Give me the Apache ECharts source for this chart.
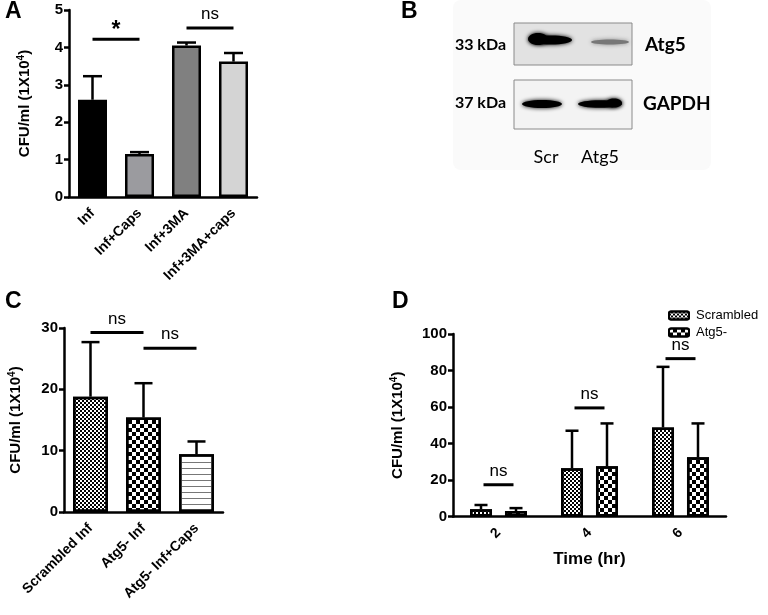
<!DOCTYPE html>
<html>
<head>
<meta charset="utf-8">
<script src="https://cdn.jsdelivr.net/npm/echarts@6/dist/echarts.min.js"></script>
<style>
  html, body { margin: 0; padding: 0; background: #fff; }
  #main { width: 768px; height: 615px; }
</style>
</head>
<body>
<div id="main"></div>
<script>
// ---- panel A data
var aCats = ['Inf', 'Inf+Caps', 'Inf+3MA', 'Inf+3MA+caps'];
var aMeans = [2.6, 1.15, 4.05, 3.62];
var aErrTop = [3.23, 1.2, 4.13, 3.85];
var aColors = ['#000000', '#9b9b9f', '#808080', '#d4d4d4'];
var aSig = [[0, 1, 4.22, '*'], [2, 3, 4.52, 'ns']];

// ---- panel C data
var cCats = ['Scrambled Inf', 'Atg5- Inf', 'Atg5- Inf+Caps'];
var cMeans = [18.8, 15.4, 9.4];
var cErrTop = [27.7, 21.0, 11.5];
var cSig = [[0, 1, 29.25, 'ns'], [1, 2, 26.7, 'ns']];

// ---- panel D data
var dCats = ['2', '4', '6'];
var dScr = [4, 26.5, 48.8];
var dScrErrTop = [6.3, 47, 82];
var dAtg = [3, 27.5, 32.4];
var dAtgErrTop = [4.6, 51, 51];
var dSig = [[0, 17.4, 'ns'], [1, 59.5, 'ns'], [2, 86.5, 'ns']];

var FONT = '"Liberation Sans", Arial, sans-serif';
var BLOT_FONT = 'Lato, "Open Sans", sans-serif';

// patterns
var fineChecker = { symbol: 'rect', symbolSize: 1, color: '#000', dashArrayX: [[2, 2], [0, 2, 2, 0]], dashArrayY: [2, 0] };
var bigChecker = { symbol: 'rect', symbolSize: 1, color: '#000', dashArrayX: [[4, 4], [0, 4, 4, 0]], dashArrayY: [4, 0] };
var stripes = { symbol: 'rect', symbolSize: 1, color: '#777', dashArrayX: [1, 0], dashArrayY: [1, 4.7] };

var chart = echarts.init(document.getElementById('main'));

function errorBar(offset, cap) {
  return function (params, api) {
    var i = api.value(0);
    var lo = api.coord([i, api.value(1)]);
    var hi = api.coord([i, api.value(2)]);
    var x = lo[0] + offset;
    var st = { stroke: '#000', lineWidth: 2.5 };
    return {
      type: 'group',
      children: [
        { type: 'line', shape: { x1: x, y1: lo[1], x2: x, y2: hi[1] }, style: st },
        { type: 'line', shape: { x1: x - cap / 2, y1: hi[1], x2: x + cap / 2, y2: hi[1] }, style: st }
      ]
    };
  };
}

function sigPair(list) {
  return function (params, api) {
    var y = api.value(2);
    var p0 = api.coord([api.value(0), y]);
    var p1 = api.coord([api.value(1), y]);
    var t = list[params.dataIndex][3];
    var star = t === '*';
    return {
      type: 'group',
      children: [
        { type: 'line', shape: { x1: p0[0], y1: p0[1], x2: p1[0], y2: p1[1] }, style: { stroke: '#000', lineWidth: 3 } },
        { type: 'text', style: { text: t, x: (p0[0] + p1[0]) / 2, y: p0[1] - (star ? -3 : 5), align: 'center', verticalAlign: 'bottom',
          font: (star ? 'bold 23px ' : '17px ') + FONT, fill: '#000' } }
      ]
    };
  };
}

function sigSingle(list, half) {
  return function (params, api) {
    var p = api.coord([api.value(0), api.value(1)]);
    return {
      type: 'group',
      children: [
        { type: 'line', shape: { x1: p[0] - half, y1: p[1], x2: p[0] + half, y2: p[1] }, style: { stroke: '#000', lineWidth: 3 } },
        { type: 'text', style: { text: list[params.dataIndex][2], x: p[0], y: p[1] - 5, align: 'center', verticalAlign: 'bottom',
          font: '17px ' + FONT, fill: '#000' } }
      ]
    };
  };
}

function xAx(idx, cats, rotate) {
  return {
    type: 'category', gridIndex: idx, data: cats,
    axisLine: { lineStyle: { color: '#000', width: 2.5 } },
    axisTick: { alignWithLabel: true, length: 7, lineStyle: { color: '#000', width: 2.5 } },
    axisLabel: { rotate: rotate, margin: 14, color: '#000', fontWeight: 'bold', fontSize: 14, fontFamily: FONT, interval: 0 }
  };
}

function yAx(idx, max, interval, gap) {
  return {
    type: 'value', gridIndex: idx, min: 0, max: max, interval: interval,
    name: 'CFU/ml (1X10{sup|4})', nameLocation: 'middle', nameGap: gap, nameRotate: 90,
    nameTextStyle: { color: '#000', fontWeight: 'bold', fontSize: 15, fontFamily: FONT,
      rich: { sup: { fontSize: 10, fontWeight: 'bold', fontFamily: FONT, padding: [0, 0, 8, 0], color: '#000' } } },
    axisLine: { show: true, lineStyle: { color: '#000', width: 2.5 } },
    axisTick: { show: true, length: 5, lineStyle: { color: '#000', width: 2.5 } },
    axisLabel: { color: '#000', fontWeight: 'bold', fontSize: 15, fontFamily: FONT, margin: 6 },
    splitLine: { show: false }
  };
}

var option = {
  animation: false,
  backgroundColor: '#fff',
  grid: [
    { left: 69, top: 10, width: 188, height: 187 },
    { left: 64, top: 328, width: 159, height: 184 },
    { left: 453, top: 334, width: 273, height: 182.5 }
  ],
  xAxis: [
    xAx(0, aCats, 45),
    xAx(1, cCats, 45),
    Object.assign(xAx(2, dCats, 45), {
      name: 'Time (hr)', nameLocation: 'middle', nameGap: 34,
      nameTextStyle: { color: '#000', fontWeight: 'bold', fontSize: 17, fontFamily: FONT }
    })
  ],
  yAxis: [
    yAx(0, 5, 1, 35),
    yAx(1, 30, 10, 39),
    yAx(2, 100, 20, 46)
  ],
  legend: {
    orient: 'vertical', left: 663, top: 304, itemWidth: 20, itemHeight: 8, itemGap: 4,
    textStyle: { color: '#000', fontSize: 13, fontFamily: FONT, padding: [0, 0, 0, 2] },
    data: ['Scrambled', 'Atg5-']
  },
  series: [
    {
      type: 'bar', xAxisIndex: 0, yAxisIndex: 0, barWidth: 29, z: 2,
      data: aMeans.map(function (v, i) { return { value: v, itemStyle: { color: aColors[i] } }; }),
      itemStyle: { borderColor: '#000', borderWidth: 2.5 }
    },
    {
      type: 'custom', xAxisIndex: 0, yAxisIndex: 0, z: 3, renderItem: errorBar(0, 19),
      encode: { x: 0, y: [1, 2] },
      data: aMeans.map(function (v, i) { return [i, v, aErrTop[i]]; })
    },
    {
      type: 'custom', xAxisIndex: 0, yAxisIndex: 0, z: 3, renderItem: sigPair(aSig),
      encode: { x: [0, 1], y: 2 }, data: aSig.map(function (s) { return [s[0], s[1], s[2]]; })
    },
    {
      type: 'bar', xAxisIndex: 1, yAxisIndex: 1, barWidth: 35, z: 2,
      data: [
        { value: cMeans[0], itemStyle: { decal: fineChecker } },
        { value: cMeans[1], itemStyle: { decal: bigChecker } },
        { value: cMeans[2], itemStyle: { decal: stripes } }
      ],
      itemStyle: { color: '#fff', borderColor: '#000', borderWidth: 2.5 }
    },
    {
      type: 'custom', xAxisIndex: 1, yAxisIndex: 1, z: 3, renderItem: errorBar(0, 18),
      encode: { x: 0, y: [1, 2] },
      data: cMeans.map(function (v, i) { return [i, v, cErrTop[i]]; })
    },
    {
      type: 'custom', xAxisIndex: 1, yAxisIndex: 1, z: 3, renderItem: sigPair(cSig),
      encode: { x: [0, 1], y: 2 }, data: cSig.map(function (s) { return [s[0], s[1], s[2]]; })
    },
    {
      name: 'Scrambled', type: 'bar', xAxisIndex: 2, yAxisIndex: 2, barWidth: 22, barGap: '59%', z: 2,
      data: dScr,
      itemStyle: { color: '#fff', borderColor: '#000', borderWidth: 2.5, decal: fineChecker }
    },
    {
      name: 'Atg5-', type: 'bar', xAxisIndex: 2, yAxisIndex: 2, barWidth: 22, barGap: '59%', z: 2,
      data: dAtg,
      itemStyle: { color: '#fff', borderColor: '#000', borderWidth: 2.5, decal: bigChecker }
    },
    {
      type: 'custom', xAxisIndex: 2, yAxisIndex: 2, z: 3, renderItem: errorBar(-17.5, 13),
      encode: { x: 0, y: [1, 2] },
      data: dScr.map(function (v, i) { return [i, v, dScrErrTop[i]]; })
    },
    {
      type: 'custom', xAxisIndex: 2, yAxisIndex: 2, z: 3, renderItem: errorBar(17.5, 13),
      encode: { x: 0, y: [1, 2] },
      data: dAtg.map(function (v, i) { return [i, v, dAtgErrTop[i]]; })
    },
    {
      type: 'custom', xAxisIndex: 2, yAxisIndex: 2, z: 3, renderItem: sigSingle(dSig, 15),
      encode: { x: 0, y: 1 }, data: dSig.map(function (s) { return [s[0], s[1]]; })
    }
  ],
  graphic: [
    // faint backdrop of the blot picture
    { type: 'rect', z: -1, shape: { x: 453, y: 0, width: 258, height: 170, r: 8 }, style: { fill: '#fafafa' } },
    // panel letters
    { type: 'text', left: 5, top: 0, style: { text: 'A', font: 'bold 23px ' + FONT, fill: '#000' } },
    { type: 'text', left: 401, top: 0, style: { text: 'B', font: 'bold 23px ' + FONT, fill: '#000' } },
    { type: 'text', left: 5, top: 290, style: { text: 'C', font: 'bold 23px ' + FONT, fill: '#000' } },
    { type: 'text', left: 392, top: 290, style: { text: 'D', font: 'bold 23px ' + FONT, fill: '#000' } },
    // western blot panel
    { type: 'rect', shape: { x: 514, y: 23, width: 118, height: 42 }, style: { fill: '#e2e2e2', stroke: '#8a8a8a', lineWidth: 1 } },
    { type: 'rect', shape: { x: 514, y: 80, width: 118, height: 49 }, style: { fill: '#f3f3f3', stroke: '#8a8a8a', lineWidth: 1 } },
    { type: 'ellipse', shape: { cx: 538, cy: 39, rx: 10, ry: 6 }, style: { fill: '#000', shadowBlur: 4, shadowColor: '#000' } },
    { type: 'ellipse', shape: { cx: 551, cy: 40, rx: 21, ry: 4.5 }, style: { fill: '#000', shadowBlur: 4, shadowColor: '#000' } },
    { type: 'ellipse', shape: { cx: 610, cy: 42, rx: 19, ry: 2.5 }, style: { fill: '#777', shadowBlur: 4, shadowColor: '#888' } },
    { type: 'ellipse', shape: { cx: 542, cy: 104, rx: 20, ry: 4 }, style: { fill: '#000', shadowBlur: 4, shadowColor: '#000' } },
    { type: 'ellipse', shape: { cx: 600, cy: 104, rx: 22, ry: 3.8 }, style: { fill: '#000', shadowBlur: 4, shadowColor: '#000' } },
    { type: 'ellipse', shape: { cx: 614, cy: 103, rx: 8, ry: 4.5 }, style: { fill: '#000', shadowBlur: 4, shadowColor: '#000' } },
    { type: 'text', x: 506, y: 45, style: { text: '33 kDa', font: 'bold 16px ' + BLOT_FONT, fill: '#000', align: 'right', verticalAlign: 'middle' } },
    { type: 'text', x: 506, y: 103, style: { text: '37 kDa', font: 'bold 16px ' + BLOT_FONT, fill: '#000', align: 'right', verticalAlign: 'middle' } },
    { type: 'text', x: 645, y: 45, style: { text: 'Atg5', font: 'bold 19px ' + BLOT_FONT, fill: '#000', verticalAlign: 'middle' } },
    { type: 'text', x: 643, y: 104, style: { text: 'GAPDH', font: 'bold 19px ' + BLOT_FONT, fill: '#000', verticalAlign: 'middle' } },
    { type: 'text', x: 546, y: 157, style: { text: 'Scr', font: '18px ' + BLOT_FONT, fill: '#000', align: 'center', verticalAlign: 'middle' } },
    { type: 'text', x: 600, y: 157, style: { text: 'Atg5', font: '18px ' + BLOT_FONT, fill: '#000', align: 'center', verticalAlign: 'middle' } }
  ]
};

chart.setOption(option);
</script>
</body>
</html>
